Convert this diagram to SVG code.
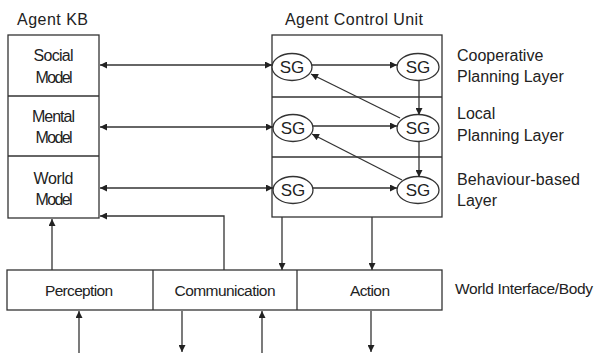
<svg xmlns="http://www.w3.org/2000/svg" width="595" height="353" viewBox="0 0 595 353">
<style>
.box{fill:#fff;stroke:#333;stroke-width:1.3}
.ln{fill:none;stroke:#333;stroke-width:1.3}
.t{font-family:"Liberation Sans",Arial,sans-serif;font-size:16px;fill:#222}
.sg{font-size:17px}
.b{font-size:15.5px}
.c{text-anchor:middle}
</style>
<defs>
<marker id="ah" viewBox="0 0 10 10" refX="10" refY="5" markerWidth="9" markerHeight="7" markerUnits="userSpaceOnUse" orient="auto-start-reverse">
<path d="M0,0 L10,5 L0,10 z" fill="#222"/>
</marker>
</defs>
<rect width="595" height="353" fill="#fff"/>
<text class="t" x="17" y="25" textLength="71">Agent KB</text>
<text class="t" x="285" y="25" textLength="138">Agent Control Unit</text>
<g id="agent-kb">
<rect class="box" x="8" y="35" width="91" height="183"/>
<line class="ln" x1="8" y1="96" x2="99" y2="96"/>
<line class="ln" x1="8" y1="156" x2="99" y2="156"/>
<text class="t c" x="53.5" y="61" textLength="40">Social</text>
<text class="t c" x="54" y="83" textLength="37">Model</text>
<text class="t c" x="53.5" y="122" textLength="43">Mental</text>
<text class="t c" x="54" y="143" textLength="37">Model</text>
<text class="t c" x="53.5" y="184" textLength="40">World</text>
<text class="t c" x="54" y="205" textLength="37">Model</text>
</g>
<g id="control-unit">
<rect class="box" x="272" y="35" width="170" height="182"/>
<line class="ln" x1="272" y1="97" x2="442" y2="97"/>
<line class="ln" x1="272" y1="157" x2="442" y2="157"/>
</g>
<g id="sg-1-1"><ellipse class="box" cx="292" cy="67" rx="20" ry="13.5"/><text class="t sg c" x="292" y="73">SG</text></g>
<g id="sg-1-2"><ellipse class="box" cx="418" cy="67" rx="21" ry="13.5"/><text class="t sg c" x="418" y="73">SG</text></g>
<g id="sg-2-1"><ellipse class="box" cx="293" cy="128" rx="20" ry="13.5"/><text class="t sg c" x="293" y="134">SG</text></g>
<g id="sg-2-2"><ellipse class="box" cx="418" cy="128" rx="21" ry="13.5"/><text class="t sg c" x="418" y="134">SG</text></g>
<g id="sg-3-1"><ellipse class="box" cx="293" cy="190" rx="20" ry="13.5"/><text class="t sg c" x="293" y="196">SG</text></g>
<g id="sg-3-2"><ellipse class="box" cx="418" cy="190" rx="21" ry="13.5"/><text class="t sg c" x="418" y="196">SG</text></g>
<g id="layer-labels">
<text class="t" x="457" y="61">Cooperative</text>
<text class="t" x="457" y="82">Planning Layer</text>
<text class="t" x="457" y="119">Local</text>
<text class="t" x="457" y="141">Planning Layer</text>
<text class="t" x="457" y="185" textLength="123">Behaviour-based</text>
<text class="t" x="457" y="206">Layer</text>
</g>
<g id="world-interface">
<rect class="box" x="7" y="270" width="435" height="40"/>
<line class="ln" x1="153" y1="270" x2="153" y2="310"/>
<line class="ln" x1="297" y1="270" x2="297" y2="310"/>
<text class="t b c" x="79" y="296" textLength="68">Perception</text>
<text class="t b c" x="225" y="296" textLength="101">Communication</text>
<text class="t b c" x="370" y="296" textLength="40">Action</text>
<text class="t b" x="455" y="294" textLength="138">World Interface/Body</text>
</g>
<g id="connectors">
<line class="ln" x1="100" y1="65" x2="272" y2="65" marker-start="url(#ah)" marker-end="url(#ah)"/>
<line class="ln" x1="100" y1="127" x2="273" y2="127" marker-start="url(#ah)" marker-end="url(#ah)"/>
<line class="ln" x1="100" y1="188" x2="273" y2="188" marker-start="url(#ah)" marker-end="url(#ah)"/>
<line class="ln" x1="312" y1="65" x2="397" y2="65" marker-end="url(#ah)"/>
<line class="ln" x1="313" y1="126" x2="397" y2="126" marker-end="url(#ah)"/>
<line class="ln" x1="313" y1="188" x2="397" y2="188" marker-end="url(#ah)"/>
<line class="ln" x1="419" y1="80" x2="419" y2="115" marker-end="url(#ah)"/>
<line class="ln" x1="419" y1="141" x2="419" y2="177" marker-end="url(#ah)"/>
<line class="ln" x1="400" y1="118" x2="311" y2="74" marker-end="url(#ah)"/>
<line class="ln" x1="402" y1="180" x2="312" y2="134" marker-end="url(#ah)"/>
<line class="ln" x1="52" y1="270" x2="52" y2="219" marker-end="url(#ah)"/>
<polyline class="ln" points="224,270 224,216 100,216" marker-end="url(#ah)"/>
<line class="ln" x1="282" y1="217" x2="282" y2="270" marker-end="url(#ah)"/>
<line class="ln" x1="372" y1="217" x2="372" y2="270" marker-end="url(#ah)"/>
<line class="ln" x1="79" y1="353" x2="79" y2="311" marker-end="url(#ah)"/>
<line class="ln" x1="182" y1="311" x2="182" y2="352" marker-end="url(#ah)"/>
<line class="ln" x1="262" y1="353" x2="262" y2="311" marker-end="url(#ah)"/>
<line class="ln" x1="371" y1="311" x2="371" y2="352" marker-end="url(#ah)"/>
</g>
</svg>
